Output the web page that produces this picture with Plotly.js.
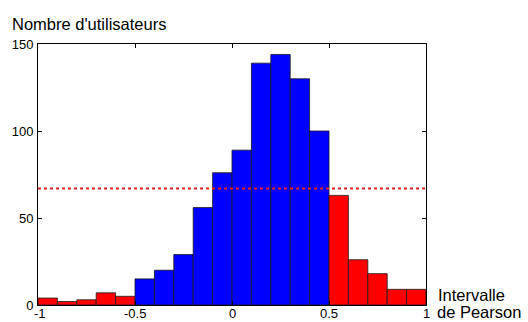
<!DOCTYPE html>
<html>
<head>
<meta charset="utf-8">
<script src="https://cdn.plot.ly/plotly-3.0.1.min.js"></script>
<style>html,body{margin:0;padding:0;background:#fff;}#chart{width:528px;height:322px;}</style>
</head>
<body>
<div id="chart"></div>
<script>
// Histogram bins (centers) of the Pearson interval, width 0.1
const binCenters = [-0.95,-0.85,-0.75,-0.65,-0.55,-0.45,-0.35,-0.25,-0.15,-0.05,
                    0.05,0.15,0.25,0.35,0.45,0.55,0.65,0.75,0.85,0.95];
const userCounts = [4,2,3,7,5,15,20,29,56,76,
                    89,139,144,130,100,63,26,18,9,9];
const thresholdX = [-1, 1];
const thresholdY = [67, 67];
const xTicks = [-1,-0.5,0,0.5,1];
const xTickText = ['-1','-0.5','0','0.5','1'];
const yTicks = [0,50,100,150];

const barColors = binCenters.map(c => (Math.abs(c) > 0.5 ? '#ff0000' : '#0000ff'));

const traces = [
  {
    type: 'bar',
    x: binCenters,
    y: userCounts,
    width: 0.1,
    marker: {color: barColors, line: {color: '#1a1a1a', width: 0.8}},
    hoverinfo: 'x+y'
  },
  {
    type: 'scatter',
    mode: 'lines',
    x: thresholdX,
    y: thresholdY,
    line: {color: '#dd2222', width: 2, dash: 'dot'},
    hoverinfo: 'skip'
  }
];

const W = 388, H = 261;
// x tick labels placed as annotations so they stay inside the frame
const xLabelAnns = xTicks.map((v, i) => ({
  text: xTickText[i], xref: 'x', yref: 'paper',
  x: v, y: (305 - 322) / H, xanchor: 'center', yanchor: 'bottom',
  xshift: i === 0 ? 2 : 0,
  showarrow: false, font: {size: 13}, borderpad: 0
}));

const layout = {
  width: 528, height: 322,
  margin: {l: 38, r: 102, t: 44, b: 17, pad: 0},
  paper_bgcolor: '#ffffff',
  plot_bgcolor: '#ffffff',
  showlegend: false,
  bargap: 0,
  font: {family: 'Liberation Sans, Arial, sans-serif', size: 13, color: '#000'},
  xaxis: {
    range: [-1, 1],
    tickmode: 'array', tickvals: xTicks, showticklabels: false,
    ticks: 'inside', ticklen: 4, tickcolor: '#000', tickwidth: 1,
    showline: true, linecolor: '#000', linewidth: 1, mirror: 'ticks',
    showgrid: false, zeroline: false
  },
  yaxis: {
    range: [0, 150],
    tickmode: 'array', tickvals: yTicks,
    ticks: 'inside', ticklen: 4, tickcolor: '#000', tickwidth: 1,
    showline: true, linecolor: '#000', linewidth: 1, mirror: 'ticks',
    showgrid: false, zeroline: false,
    tickfont: {size: 13}, ticklabelstandoff: 1
  },
  annotations: [
    {text: "Nombre d'utilisateurs", xref: 'paper', yref: 'paper',
     x: (10 - 38) / W, y: (305 - 24) / H, xanchor: 'left', yanchor: 'middle',
     showarrow: false, font: {size: 16.5}},
    {text: 'Intervalle', xref: 'paper', yref: 'paper',
     x: (436 - 38) / W, y: (305 - 295) / H, xanchor: 'left', yanchor: 'middle',
     showarrow: false, font: {size: 16.5}},
    {text: 'de Pearson', xref: 'paper', yref: 'paper',
     x: (436 - 38) / W, y: (305 - 322) / H, xanchor: 'left', yanchor: 'bottom',
     showarrow: false, font: {size: 16.5}, borderpad: 0}
  ].concat(xLabelAnns)
};

Plotly.newPlot('chart', traces, layout, {displayModeBar: false, staticPlot: true});
</script>
</body>
</html>
